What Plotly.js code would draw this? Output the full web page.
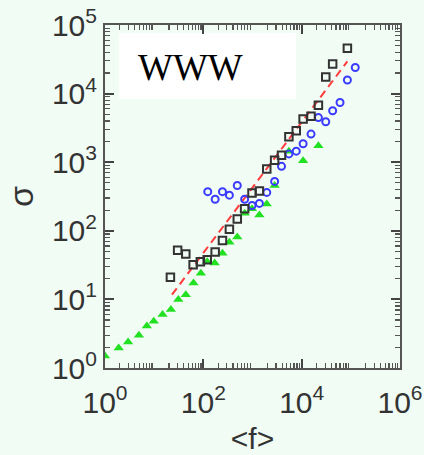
<!DOCTYPE html>
<html><head><meta charset="utf-8">
<script src="https://cdn.plot.ly/plotly-3.0.1.min.js"></script>
<style>html,body{margin:0;padding:0;background:#f1fcf4;}#chart{width:424px;height:455px;}</style>
</head><body><div id="chart"></div>
<script>
// green triangles
const greenF = [1.0, 1.9, 2.95, 4.9, 7.1, 9.8, 14.8, 21.9, 31, 44, 63, 89, 120, 170, 245, 339, 490, 692, 977, 1380, 1950, 2820, 5500, 10700, 21900];
const greenS = [1.5, 1.95, 2.4, 3.0, 4.1, 4.8, 6.0, 7.1, 10, 11.7, 17.4, 24, 35.5, 34, 47, 68, 81, 180, 209, 170, 245, 457, 1450, 1050, 1740];
// black squares
const blackF = [21.4, 30, 44, 62, 87, 120, 174, 245, 339, 490, 692, 977, 1380, 1950, 2820, 3890, 5500, 7760, 10700, 15500, 21900, 30900, 42700, 85100];
const blackS = [21, 52, 46, 32, 35.5, 38, 49, 72, 105, 148, 209, 355, 380, 794, 1070, 1260, 2340, 2880, 4270, 4680, 6760, 17400, 26900, 45700];
// blue circles
const blueF = [123, 174, 245, 339, 490, 692, 977, 1380, 1950, 2820, 3890, 5500, 7760, 10700, 15500, 21900, 30900, 42700, 60300, 85100, 123000];
const blueS = [372, 288, 372, 331, 457, 288, 234, 251, 363, 525, 871, 1320, 1450, 1860, 2570, 4470, 3890, 5620, 7410, 15800, 24000];
// fitted line
const fitF = [23, 85000];
const fitS = [11.7, 29500];
const xTicks = [1, 100, 10000, 1000000];
const xTickText = ['10<sup>0</sup>', '10<sup>2</sup>', '10<sup>4</sup>', '10<sup>6</sup>'];
const yTicks = [1, 10, 100, 1000, 10000, 100000];
const yTickText = ['10<sup>0</sup>', '10<sup>1</sup>', '10<sup>2</sup>', '10<sup>3</sup>', '10<sup>4</sup>', '10<sup>5</sup>'];

function minorVals(decades) {
  const v = [];
  for (let d = 0; d < decades; d++) for (let k = 2; k <= 9; k++) v.push(k * Math.pow(10, d));
  return v;
}
const xMinor = minorVals(6);
const yMinor = minorVals(5);

const traces = [
  {x: [1], y: [1], xaxis: 'x2', yaxis: 'y2', mode: 'markers', marker: {opacity: 0}, hoverinfo: 'skip'},
  {x: fitF, y: fitS, mode: 'lines', line: {color: '#ff3b3b', width: 2, dash: '8px,5px'}, hoverinfo: 'skip'},
  {x: greenF, y: greenS, mode: 'markers', marker: {symbol: 'triangle-up', size: 9, color: '#22e022'}},
  {x: blueF, y: blueS, mode: 'markers', marker: {symbol: 'circle-open', size: 7, color: '#3b3bff', line: {width: 2}}},
  {x: blackF, y: blackS, mode: 'markers', marker: {symbol: 'square-open', size: 7.5, color: '#333333', line: {width: 2}}}
];
const axisCommon = {
  type: 'log', showgrid: false, zeroline: false, showline: true, linecolor: '#555', linewidth: 2,
  mirror: 'ticks', ticks: 'inside', ticklen: 9, tickcolor: '#444', tickwidth: 2,
  tickmode: 'array',
  tickfont: {family: 'Liberation Sans, Arial', size: 30, color: '#333'}
};
const minorCommon = {
  type: 'log', showgrid: false, zeroline: false, showline: false, showticklabels: false,
  mirror: 'ticks', ticks: 'inside', ticklen: 5, tickcolor: '#555', tickwidth: 1.2,
  tickmode: 'array'
};
const layout = {
  width: 424, height: 455,
  margin: {l: 105, r: 24, t: 25, b: 87},
  paper_bgcolor: '#f1fcf4', plot_bgcolor: '#f1fcf4',
  showlegend: false,
  xaxis: Object.assign({}, axisCommon, {range: [0, 6], tickvals: xTicks, ticktext: xTickText, ticklabelstandoff: 7,
    title: {text: '<f>', font: {family: 'Liberation Sans, Arial', size: 30, color: '#333'}, standoff: 15}}),
  yaxis: Object.assign({}, axisCommon, {range: [0, 5], tickvals: yTicks, ticktext: yTickText,
    title: {text: 'σ', font: {family: 'Liberation Sans, Arial', size: 34, color: '#333'}, standoff: 8}}),
  xaxis2: Object.assign({}, minorCommon, {range: [0, 6], overlaying: 'x', side: 'bottom', anchor: 'y2', tickvals: xMinor}),
  yaxis2: Object.assign({}, minorCommon, {range: [0, 5], overlaying: 'y', side: 'left', anchor: 'x2', tickvals: yMinor}),
  shapes: [{type: 'rect', xref: 'paper', yref: 'paper', x0: 0.047, x1: 0.647, y0: 0.784, y1: 0.977,
    fillcolor: '#ffffff', line: {width: 0}, layer: 'below'}],
  annotations: [{xref: 'paper', yref: 'paper', x: 0.291, y: 0.876, text: 'WWW', showarrow: false,
    xanchor: 'center', yanchor: 'middle', font: {family: 'Liberation Serif, Times New Roman', size: 37, color: '#000'}}]
};
Plotly.newPlot('chart', traces, layout, {displayModeBar: false, staticPlot: true});
</script></body></html>
